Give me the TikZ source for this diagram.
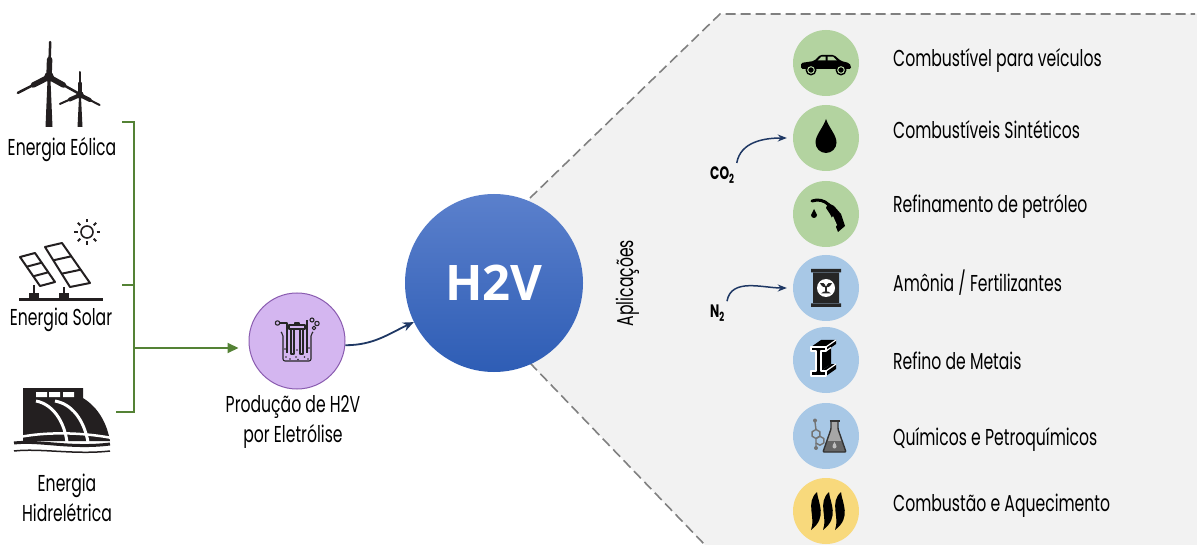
\documentclass[tikz,border=0pt]{standalone}
\usepackage{fontspec}
\setmainfont{Poppins}[FakeStretch=0.68]
\newfontfamily\boldsans{Open Sans}
\usetikzlibrary{arrows.meta,positioning,calc}

\definecolor{busgreen}{HTML}{548235}
\definecolor{navy}{HTML}{1F3864}
\definecolor{panelgray}{HTML}{F2F2F2}
\definecolor{dashgray}{HTML}{808080}
\definecolor{appgreen}{HTML}{B3D3A0}
\definecolor{appblue}{HTML}{A8C8E6}
\definecolor{appyellow}{HTML}{F8D97C}
\definecolor{lilac}{HTML}{D4B6F0}
\definecolor{lilacedge}{HTML}{8A5CB0}
\definecolor{h2vtop}{HTML}{5B80CC}
\definecolor{h2vbot}{HTML}{2E5DB5}
\definecolor{ink}{HTML}{231F20}

\begin{document}
\begin{tikzpicture}[x=1pt,y=1pt,
    lbl/.style={font=\fontsize{23}{30}\selectfont, inner sep=0pt},
    chem/.style={font=\bfseries\fontsize{18}{18}\selectfont, inner sep=0pt},
    app/.style={circle, minimum size=66pt, inner sep=0pt},
    busline/.style={busgreen, line width=2pt},
    navyarrow/.style={navy, line width=1.8pt, -{Stealth[length=11pt,width=9pt]}}]

\useasboundingbox (0,0) rectangle (1197,-545);

% grey panel of the applications
\fill[panelgray] (530,-198) -- (720,-14) -- (1197,-14) -- (1197,-545) -- (705,-545)
    -- (530,-363) -- (494,-283) -- cycle;
\draw[dashgray, line width=1.6pt, dash pattern=on 10pt off 5pt] (530,-198) -- (720,-14) -- (1195,-14);
\draw[dashgray, line width=1.6pt, dash pattern=on 10pt off 5pt] (530,-363) -- (705,-545);

% central node
\node[circle, minimum size=178pt, top color=h2vtop, bottom color=h2vbot, text=white,
    font=\boldsans\bfseries\fontsize{49}{50}\selectfont] (h2v) at (494,-283) {H2V};
\node[lbl, rotate=90, anchor=base] (aplic) at (633,-283) {Aplicações};

% electrolysis
\node[circle, minimum size=96pt, fill=lilac, draw=lilacedge, line width=1pt] (eletro) at (297,-341) {};
\node[lbl, align=center, anchor=base] (eletrolbl) at (293,-442) {Produção de H2V\\por Eletrólise};

% sources
\node[lbl, anchor=base] (eolica) at (62,-156) {Energia Eólica};
\node[lbl, anchor=base] (solar) at (61,-326) {Energia Solar};
\node[lbl, anchor=base, align=center] (hidro) at (67,-521) {Energia\\Hidrelétrica};

\coordinate (eolStub) at (122,-122);
\coordinate (solStub) at (122,-285);
\coordinate (hidStub) at (116,-412);
\coordinate (busMid) at (134,-348);
\draw[busline] (eolStub) -| (busMid) |- (hidStub);
\draw[busline] (solStub) -- (solStub -| busMid);
\draw[busline, -{Triangle[length=11pt,width=10pt]}, shorten >=10pt] (busMid) -- (busMid -| eletro.west);

\draw[navyarrow] (eletro.-5) to[out=0, in=205] (h2v.206);

% applications
\foreach \n/\cy/\ly/\col/\txt in {
    1/63/67/appgreen/{Combustível para veículos},
    2/138/139/appgreen/{Combustíveis Sintéticos},
    3/214/213/appgreen/{Refinamento de petróleo},
    4/288/292/appblue/{Amônia / Fertilizantes},
    5/360/370/appblue/{Refino de Metais},
    6/436/445/appblue/{Químicos e Petroquímicos},
    7/511/511/appyellow/{Combustão e Aquecimento}} {
  \node[app, fill=\col] (app\n) at (826,-\cy) {};
  \node[lbl, anchor=base west] (use\n) at (893,-\ly) {\txt};
}

\node[chem, anchor=base west] (co2) at (710,-180) {CO\textsubscript{2}};
\node[chem, anchor=base west] (n2) at (710,-318) {N\textsubscript{2}};
\draw[navyarrow, line width=1.5pt, -{Stealth[length=9pt,width=7pt]}]
    ([shift={(2pt,4pt)}]co2.north east) to[out=80, in=180] ([xshift=-6pt]app2.west);
\draw[navyarrow, line width=1.5pt, -{Stealth[length=9pt,width=7pt]}]
    ([shift={(2pt,4pt)}]n2.north east) to[out=80, in=180] ([xshift=-6pt]app4.west);

% wind turbines
\begin{scope}[ink, line cap=round]
  \foreach \a/\l in {88/35,207/35,-29/33} {
    \draw[line width=5.5pt] (49,-77) -- ++(\a:{0.5*\l});
    \draw[line width=2.5pt] (49,-77) -- ++(\a:\l);
  }
  \fill (47.5,-80) -- (50.5,-80) -- (52.5,-127) -- (45.5,-127) -- cycle;
  \fill (49,-77) circle[radius=5];
  \foreach \a/\l in {90/23,204/22,-27/22} {
    \draw[line width=4pt] (80,-95) -- ++(\a:{0.5*\l});
    \draw[line width=2pt] (80,-95) -- ++(\a:\l);
  }
  \fill (79,-97) -- (81,-97) -- (82.5,-127) -- (77.5,-127) -- cycle;
  \fill (80,-95) circle[radius=3.8];
\end{scope}

% solar panels
\begin{scope}[ink, line width=2pt, line join=round]
  \draw (20,-257) -- (35,-253) -- (55,-282) -- (40,-286) -- cycle;
  \draw (26.7,-266.7) -- (41.7,-262.7) (33.3,-276.3) -- (48.3,-272.3);
  \draw (45,-247) -- (62,-243) -- (90,-283) -- (70,-287) -- cycle;
  \draw (53.3,-260.3) -- (71.3,-256.3) (61.7,-273.7) -- (80.7,-269.7);
  \draw (34,-285) -- (34,-294) (64,-287) -- (64,-294);
  \fill (29,-293) rectangle (39,-299);
  \fill (59,-293) rectangle (69,-299);
  \draw[line width=2.5pt] (19,-299.5) -- (103,-299.5);
  \draw[line width=1.6pt] (87,-232) circle[radius=6];
  \foreach \a in {0,45,...,315}
    \draw[line width=1.8pt] (87,-232) ++(\a:9.5) -- ++(\a:3.5);
\end{scope}

% hydroelectric dam
\begin{scope}[ink]
  \fill (23,-388) -- (83,-388) -- (83,-398) .. controls (99,-408) and (107,-424) .. (110,-441)
      -- (23,-441) -- cycle;
  \fill[white] (36,-392) rectangle (47,-397) (49,-392) rectangle (60,-397) (63,-392) rectangle (74,-397);
  \draw[white, line width=3pt] (36,-401) .. controls (52,-404) and (64,-420) .. (67,-442);
  \draw[white, line width=3pt] (55,-401) .. controls (72,-404) and (84,-420) .. (88,-442);
  \draw[white, line width=2.5pt] (20,-437) .. controls (45,-432) and (80,-432) .. (112,-438);
  \draw[line width=3pt] (14,-443) .. controls (40,-440) and (70,-449) .. (110,-444);
  \draw[line width=1.5pt] (14,-451) .. controls (40,-448) and (75,-455) .. (110,-451);
\end{scope}

% electrolysis cell
\begin{scope}[shift={(eletro.center)}, black!85, line width=1.1pt, line join=round]
  \draw[rounded corners=2pt] (-16,9) -- (-14,7) -- (-14,-20) -- (14,-20) -- (14,7) -- (16,9);
  \draw (-6,12) rectangle (-3,-13) (3,12) rectangle (6,-13);
  \draw (-8,12) rectangle (8,16) (-2,16) rectangle (2,18);
  \draw (-17,18) -- (-10,18) -- (-10,-12);
  \draw (-19.5,18) circle[radius=2.2];
  \draw (10,-12) -- (10,21);
  \draw (15,21) circle[radius=2] (20,17.5) circle[radius=2.2] (17,13) circle[radius=1.8];
  \foreach \p in {(-11,-16),(-7,-18),(-1,-16),(1,-18.5),(7.5,-16),(11,-18),(-12,-8),(12,-7),(0,-9)}
    \fill \p circle[radius=0.9];
\end{scope}

% car
\begin{scope}[shift={(app1.center)}, black]
  \fill[rounded corners=1.5pt] (-25,-6) -- (-25,0) -- (-12,2) -- (-6,8) -- (8,8) -- (15,2)
      -- (23,0) -- (25,-3) -- (25,-6) -- cycle;
  \fill[appgreen] (-8.5,2.5) -- (-4.5,6.3) -- (-0.5,6.3) -- (-0.5,2.5) -- cycle;
  \fill[appgreen] (1.5,2.5) -- (1.5,6.3) -- (7,6.3) -- (11,2.5) -- cycle;
  \fill (-15,-7) circle[radius=5.5] (15,-7) circle[radius=5.5];
  \draw[appgreen, line width=1pt] (-15,-7) circle[radius=3.3] (15,-7) circle[radius=3.3];
\end{scope}

% drop
\fill[black] ([shift={(0,19)}]app2.center) .. controls +(-3,-9) and +(0,7.5) .. ++(-10.5,-23.5)
    arc[start angle=180, end angle=360, radius=10.5] .. controls +(0,7.5) and +(3,-9) .. cycle;

% fuel nozzle
\begin{scope}[shift={(app3.center)}, black]
  \draw[line width=3pt, line cap=round] (-14,13) .. controls (-8,15) and (-2,14) .. (3,9);
  \fill (2,11) -- (8,8) -- (15,0) -- (19,-12) -- (12,-18) -- (8,-8) -- (4,0) -- (0,6) -- cycle;
  \fill[appgreen] (7,-2) -- (11,-11) -- (9,-13.5) -- (5,-5) -- cycle;
  \fill (-12,5) .. controls (-13,2) and (-15,0) .. (-15,-1) arc[start angle=180, end angle=360, radius=3]
      .. controls (-9,0) and (-11,2) .. cycle;
\end{scope}

% fertiliser bag
\begin{scope}[shift={(app4.center)}, black!85]
  \fill (-15,15.5) rectangle (15,19) (-13,-15) rectangle (13,15) (-15,-19) rectangle (15,-15.5);
  \fill[white] (0,0) circle[radius=9];
  \fill (-0.8,-4) rectangle (0.8,2);
  \fill (0,1) .. controls (1,5) and (4,6) .. (6,5) .. controls (5,2) and (2,0) .. cycle;
  \fill (0,1) .. controls (-1,5) and (-4,6) .. (-6,5) .. controls (-5,2) and (-2,0) .. cycle;
  \fill (-5,-5.5) .. controls (-2,-2.5) and (2,-2.5) .. (5,-5.5) -- cycle;
\end{scope}

% steel beam
\begin{scope}[shift={(app5.center)}, black, line join=round]
  \fill (-15,13) -- (0,13) -- (0,9) -- (-5,9) -- (-5,-11) -- (0,-11) -- (0,-16) -- (-15,-16)
      -- (-15,-11) -- (-10,-11) -- (-10,9) -- (-15,9) -- cycle;
  \fill (-15,13) -- (-5,20) -- (10,20) -- (10,16) -- (0,9) -- (0,13) -- cycle;
  \fill (-5,9) -- (5,16) -- (5,-4) -- (-5,-11) -- cycle;
  \fill (-5,-11) -- (5,-4) -- (10,-4) -- (10,-9) -- (0,-16) -- (0,-11) -- cycle;
  \draw[white, line width=1.2pt] (-15,13) -- (0,13) -- (0,9) -- (-5,9) -- (-5,-11)
      -- (0,-11) -- (0,-16) -- (-15,-16) -- (-15,-11) -- (-10,-11) -- (-10,9) -- (-15,9) -- cycle;
  \draw[white, line width=1.2pt] (0,13) -- (10,20) (0,9) -- (5,12.5) (0,-11) -- (10,-4);
\end{scope}

% molecule and flask
\begin{scope}[shift={(app6.center)}, line width=1.4pt, line join=round]
  \draw[black!55] (-10,2) +(30:4.5) -- +(90:4.5) -- +(150:4.5) -- +(210:4.5) -- +(270:4.5) -- +(330:4.5) -- cycle;
  \draw[black!55] (-6.1,-4.75) +(30:4.5) -- +(90:4.5) -- +(150:4.5) -- +(210:4.5) -- +(270:4.5) -- +(330:4.5) -- cycle;
  \draw[black!55] (-10,6.5) -- (-11,14) (-10.0,-7) -- (-10,-10.5);
  \fill[black!55] (-11,15.5) circle[radius=2] (-10,-12) circle[radius=2];
  \fill[black!35] (5,15) -- (5,7) -- (-3,-16) -- (20,-16) -- (12,7) -- (12,15) -- cycle;
  \fill[black!60] (1.5,-5) -- (15.5,-5) -- (20,-16) -- (-3,-16) -- cycle;
  \draw[black!80, rounded corners=1pt] (5,15) -- (5,7) -- (-3,-16) -- (20,-16) -- (12,7) -- (12,15);
  \draw[black!80] (3.5,15) -- (13.5,15);
  \fill[black!25] (8.5,-6) .. controls (7.5,-8) and (6.5,-9) .. (6.5,-10.5) arc[start angle=180, end angle=360, radius=2]
      .. controls (10.5,-9) and (9.5,-8) .. cycle;
\end{scope}

% heat
\begin{scope}[shift={(app7.center)}, black]
  \foreach \x in {-12,0,12}
    \fill (\x+3,19) .. controls (\x-9,8) and (\x+2,-6) .. (\x-3,-19)
        .. controls (\x+14,-6) and (\x+4,8) .. cycle;
\end{scope}
\end{tikzpicture}
\end{document}
